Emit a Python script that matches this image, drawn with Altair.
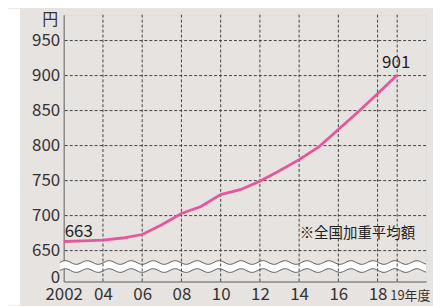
import altair as alt
import pandas as pd
import numpy as np

# ---- data ----
years = list(range(2002, 2020))
wages = [663, 664, 665, 668, 673, 687, 703, 713, 730, 737, 749, 764, 780, 798, 823, 848, 874, 901]
y_grid = [650, 700, 750, 800, 850, 900, 950]
y_zero_pos = 612          # where the broken-axis "0" sits
x_ticks = [2002, 2004, 2006, 2008, 2010, 2012, 2014, 2016, 2018]
x_grid = [2004, 2006, 2008, 2010, 2012, 2014, 2016, 2018, 2019]
first_label = "663"
last_label = "901"
note = "※全国加重平均額"
unit = "円"
last_year_label = "19年度"

W, H = 364, 268
FONT = "Noto Sans CJK JP"
PINK = "#e9559c"
GRID = "#444444"

df = pd.DataFrame({"year": years, "wage": wages})
xs = alt.Scale(domain=[2002, 2020.47], nice=False, zero=False)
ys = alt.Scale(domain=[606, 987], nice=False, zero=False)

xaxis = alt.Axis(values=x_ticks, format="d", grid=False, ticks=False,
                 labelExpr="datum.value == 2002 ? '2002' : substring(datum.label, 2)",
                 labelFontSize=17, labelColor="#333333", labelPadding=5,
                 labelOverlap=False, labelBound=False, labelFlush=False,
                 domainColor="#8a8a8a", domainWidth=1.5, title=None,
                 labelFont=FONT)
yaxis = alt.Axis(values=y_grid + [y_zero_pos], grid=False, ticks=False,
                 labelExpr=f"datum.value == {y_zero_pos} ? '0' : datum.label",
                 labelFontSize=17, labelColor="#333333", labelPadding=4,
                 labelOverlap=False, labelBound=False, labelFlush=False,
                 domainColor="#8a8a8a", domainWidth=1.5,
                 title=unit, titleAngle=0, titleX=-6, titleY=5,
                 titleAlign="right", titleBaseline="middle",
                 titleFontSize=16, titleFontWeight="normal", titleColor="#333333",
                 titleFont=FONT, labelFont=FONT)

def X(f):
    return alt.X(f, scale=xs, axis=xaxis)

def Y(f):
    return alt.Y(f, scale=ys, axis=yaxis)

# decorative wavy axis break
wx = np.linspace(2001.8, 2020.47, 400)
ph = 2 * np.pi * (wx - 2001.8) / 1.12
wave = pd.DataFrame({"x": wx, "top": 633 + 2.6 * np.sin(ph), "bot": 621.5 + 2.6 * np.sin(ph)})

one = pd.DataFrame({"a": [0]})

strip = alt.Chart(one).mark_rect(color="white").encode(
    x=alt.value(-56), x2=alt.value(-44), y=alt.value(-6), y2=alt.value(H + 24)
)

hgrid = alt.Chart(pd.DataFrame({"v": y_grid})).mark_rule(
    color=GRID, strokeDash=[3, 2], strokeWidth=1
).encode(y=Y("v:Q"))

wave_fill = alt.Chart(wave).mark_area(color="white", clip=False).encode(
    x=X("x:Q"), y=Y("top:Q"), y2="bot:Q"
)
wave_top = alt.Chart(wave).mark_line(color="#555555", strokeWidth=1, clip=False).encode(
    x=X("x:Q"), y=Y("top:Q")
)
wave_bot = alt.Chart(wave).mark_line(color="#555555", strokeWidth=1, clip=False).encode(
    x=X("x:Q"), y=Y("bot:Q")
)

vgrid = alt.Chart(pd.DataFrame({"v": x_grid})).mark_rule(
    color=GRID, strokeDash=[3, 2], strokeWidth=1
).encode(x=X("v:Q"))

line = alt.Chart(df).mark_line(color=PINK, strokeWidth=2.8).encode(
    x=X("year:Q"), y=Y("wage:Q")
)

lab_df = pd.DataFrame({
    "year": [years[0], years[-1]],
    "wage": [wages[0], wages[-1]],
    "t": [first_label, last_label],
})
lab_first = alt.Chart(lab_df.iloc[[0]]).mark_text(
    align="left", baseline="middle", dx=1, dy=-10, fontSize=17, color="#222222", font=FONT
).encode(x=X("year:Q"), y=Y("wage:Q"), text="t:N")
lab_last = alt.Chart(lab_df.iloc[[1]]).mark_text(
    align="center", baseline="middle", dx=-1, dy=-12, fontSize=17, color="#222222", font=FONT
).encode(x=X("year:Q"), y=Y("wage:Q"), text="t:N")

last_x = alt.Chart(pd.DataFrame({"year": [years[-1]], "t": [last_year_label]})).mark_text(
    align="left", baseline="middle", dx=-7, fontSize=13, color="#333333", font=FONT
).encode(x=X("year:Q"), y=alt.value(H + 15), text="t:N")

note_t = alt.Chart(pd.DataFrame({"t": [note]})).mark_text(
    align="right", baseline="middle", fontSize=14.5, color="#222222", font=FONT
).encode(x=alt.value(353), y=alt.value(220), text="t:N")

chart = alt.layer(
    strip, hgrid, wave_fill, wave_top, wave_bot, vgrid, line, lab_first, lab_last, last_x, note_t
).properties(
    width=W, height=H,
    autosize=alt.AutoSizeParams(type="none"),
    padding={"left": 56, "top": 6, "right": 7, "bottom": 24},
    background="#e7e3e0",
).configure_view(stroke=None, fill="white").configure(font=FONT)

chart.save("out.html", embed_options={"renderer": "svg", "actions": False})
